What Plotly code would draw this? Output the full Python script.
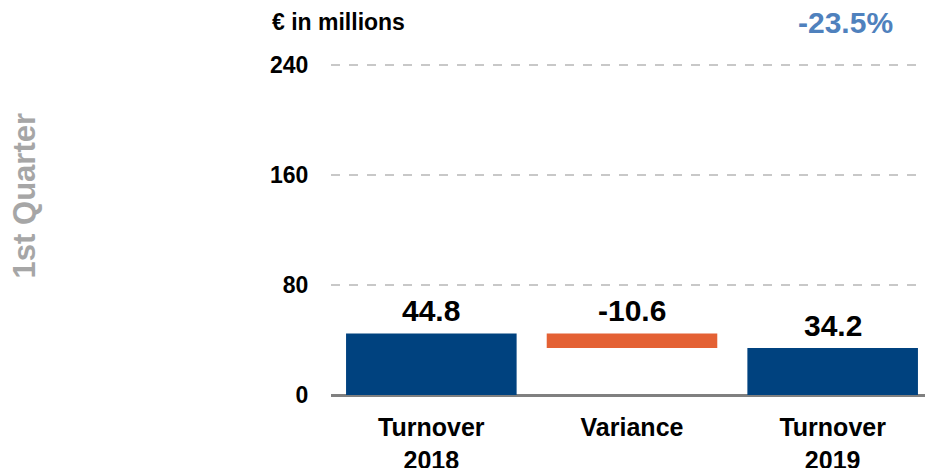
import plotly.graph_objects as go

categories = ["Turnover<br>2018", "Variance", "Turnover<br>2019"]
values = [44.8, -10.6, 34.2]
measures = ["absolute", "relative", "total"]
change_pct = "-23.5%"
y_ticks = [0, 80, 160, 240]

BLUE = "#00427f"
ORANGE = "#e46134"
FONT = "Liberation Sans, Arial, sans-serif"

# waterfall bases and heights from the values
bases, heights, colors = [], [], []
running = 0
for v, m in zip(values, measures):
    if m == "relative":
        lo, hi = sorted([running, running + v])
        bases.append(lo)
        heights.append(hi - lo)
        colors.append(ORANGE)
        running += v
    else:
        bases.append(0)
        heights.append(v)
        colors.append(BLUE)
        running = v

fig = go.Figure()
fig.add_trace(go.Bar(
    x=categories, y=heights, base=bases,
    marker=dict(color=colors, line=dict(width=0)),
    width=0.85, hoverinfo="skip",
))

for c, b, h, v in zip(categories, bases, heights, values):
    fig.add_annotation(
        x=c, y=b + h, text=f"{v:.1f}", showarrow=False,
        yanchor="bottom", yshift=4,
        font=dict(family=FONT, size=30, color="#000000", weight="bold"),
    )

fig.add_annotation(
    xref="paper", yref="paper", x=-0.102, y=1.127, xanchor="left", yanchor="middle",
    text="€ in millions", showarrow=False,
    font=dict(family=FONT, size=23, color="#000000", weight="bold"),
)
fig.add_annotation(
    xref="paper", yref="paper", x=0.855, y=1.124, xanchor="center", yanchor="middle",
    text=change_pct, showarrow=False,
    font=dict(family=FONT, size=30, color="#4f81bd", weight="bold"),
)
fig.add_annotation(
    xref="paper", yref="paper", x=-0.51, y=0.603, xanchor="center", yanchor="middle",
    text="1st Quarter", textangle=-90, showarrow=False,
    font=dict(family=FONT, size=31, color="#a6a6a6", weight="bold"),
)

# page body adds an 8px offset, so the figure is 8px smaller than the window
fig.update_layout(
    width=925, height=460,
    margin=dict(l=323, r=0, t=56, b=73),
    plot_bgcolor="white", paper_bgcolor="white",
    showlegend=False, bargap=0.15,
    font=dict(family=FONT, color="#000000"),
)
fig.update_xaxes(
    showgrid=False, showline=False, zeroline=False, automargin=False,
    ticks="outside", ticklen=10, tickcolor="rgba(0,0,0,0)",
    tickfont=dict(family=FONT, size=25, color="#000000", weight="bold"),
)
fig.update_yaxes(
    range=[0, 241], tickvals=y_ticks, showline=False, automargin=False,
    showgrid=True, gridcolor="#c8c8c8", griddash="dash", gridwidth=2,
    zeroline=True, zerolinecolor="#808080", zerolinewidth=2.5,
    ticks="outside", ticklen=17, tickcolor="rgba(0,0,0,0)",
    tickfont=dict(family=FONT, size=23, color="#000000", weight="bold"),
)

fig.write_html("out.html")
